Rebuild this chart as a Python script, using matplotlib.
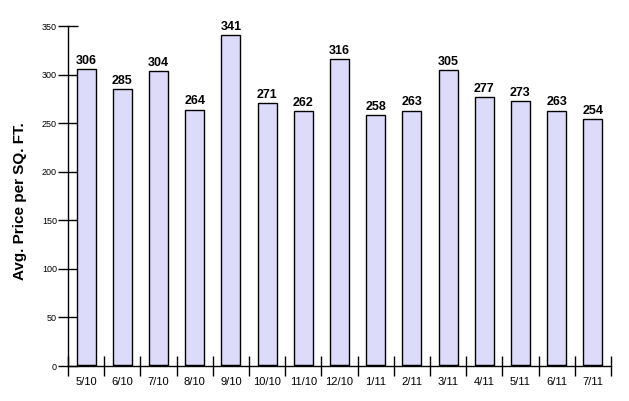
import matplotlib
matplotlib.use("Agg")
import matplotlib.pyplot as plt
import numpy as np

categories = ["5/10", "6/10", "7/10", "8/10", "9/10", "10/10", "11/10", "12/10",
              "1/11", "2/11", "3/11", "4/11", "5/11", "6/11", "7/11"]
values = [306, 285, 304, 264, 341, 271, 262, 316, 258, 263, 305, 277, 273, 263, 254]
y_ticks = [0, 50, 100, 150, 200, 250, 300, 350]

plt.rcParams['font.family'] = ['Liberation Sans', 'DejaVu Sans']

fig = plt.figure(figsize=(6.29, 4.01), dpi=100)
ax = fig.add_axes([68/629, 35/401, (611-68)/629, (366-26)/401])

x = np.arange(len(categories))
bw = 0.52
ax.bar(x, values, width=bw, color='#dcdcfa', edgecolor='black', linewidth=1.0, zorder=2)
ax.hlines([0]*len(x), x - bw/2, x + bw/2, color='black', linewidth=2.5, zorder=3)

for xi, v in zip(x, values):
    ax.annotate(str(v), (xi, v), xytext=(0, 1.5), textcoords='offset points',
                ha='center', va='bottom', fontsize=9, fontweight='bold')

ax.set_xlim(-0.5, len(x) - 0.5)
ax.set_ylim(0, 350)
ax.set_yticks(y_ticks)
ax.set_yticklabels([str(t) for t in y_ticks], fontsize=6.5)
ax.set_xticks(x)
ax.set_xticklabels(categories, fontsize=8)
ax.set_xticks(np.arange(len(x) + 1) - 0.5, minor=True)
ax.tick_params(axis='x', which='major', length=0, pad=8)
ax.tick_params(axis='x', which='minor', direction='inout', length=14, width=1)
ax.tick_params(axis='y', which='major', direction='inout', length=14, width=1, pad=1)

for s in ['top', 'right']:
    ax.spines[s].set_visible(False)
for s in ['left', 'bottom']:
    ax.spines[s].set_linewidth(1.0)

ax.set_ylabel("Avg. Price per SQ. FT.", fontsize=11, fontweight='bold')
ax.yaxis.set_label_coords(-0.076, 0.485)

fig.savefig("out.png", dpi=100)
